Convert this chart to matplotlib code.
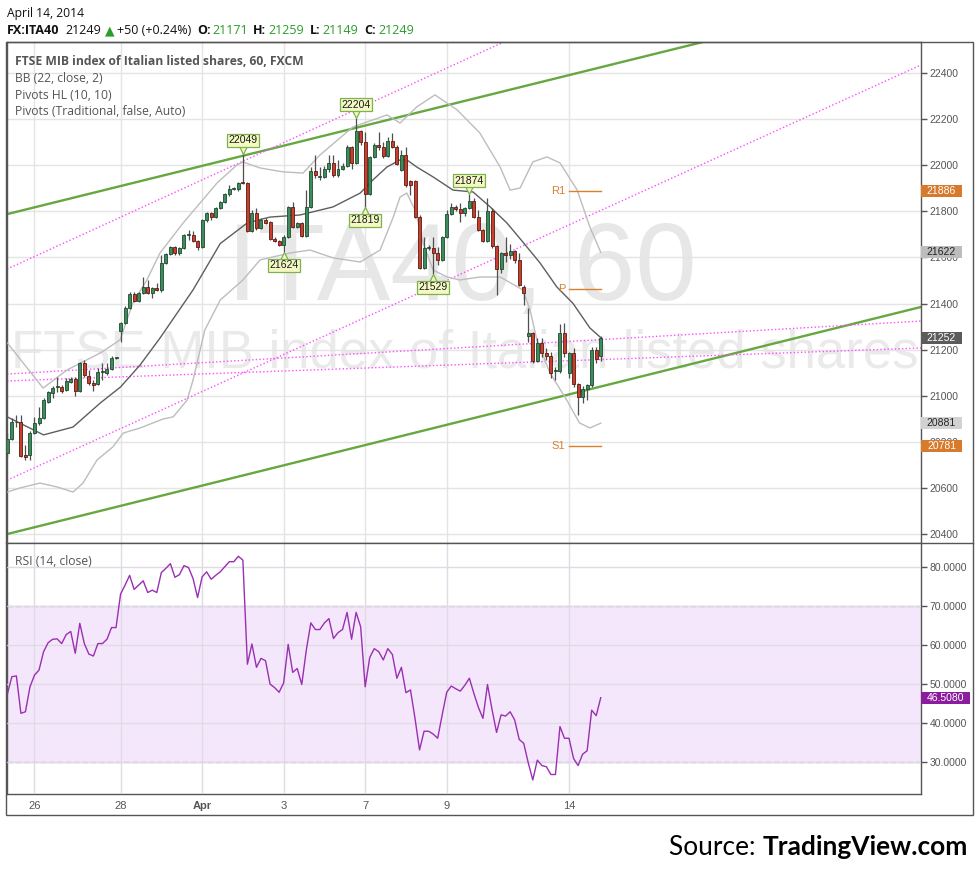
import matplotlib
matplotlib.use('Agg')
import matplotlib.pyplot as plt
from matplotlib.transforms import offset_copy
from matplotlib.patches import Rectangle
from matplotlib.lines import Line2D
import numpy as np

# ---------------- data ----------------
day_labels = ['26', '28', 'Apr', '3', '7', '9', '14']
day_bars = [6, 25, 43, 61, 79, 97, 124]

opens = [20752, 20812, 20884, 20886, 20743, 20743, 20838, 20882, 20903, 20973,
         21012, 21036, 21038, 21025, 21060, 21073, 21021, 21142, 21086, 21055,
         21051, 21103, 21099, 21116, 21164, 21281, 21316, 21381, 21441, 21411,
         21446, 21472, 21446, 21467, 21459, 21576, 21615, 21645, 21619, 21641,
         21697, 21697, 21671, 21645, 21762, 21793, 21775, 21814, 21840, 21875,
         21897, 21897, 21927, 21923, 21715, 21793, 21728, 21762, 21754, 21680,
         21671, 21654, 21689, 21819, 21732, 21749, 21693, 21819, 21975, 21949,
         21949, 21984, 22010, 21958, 21984, 21997, 22079, 22010, 22148, 22101,
         21875, 22036, 22088, 22079, 22040, 22105, 22079, 21979, 22044, 21932,
         21932, 21775, 21554, 21641, 21641, 21619, 21589, 21689, 21788, 21819,
         21810, 21793, 21814, 21845, 21775, 21719, 21671, 21801, 21650, 21550,
         21619, 21610, 21628, 21589, 21472, 21259, 21272, 21151, 21229, 21185,
         21172, 21107, 21107, 21272, 21099, 21185, 21051, 20995, 21029, 21047,
         21198, 21171]

closes = [20812, 20886, 20888, 20739, 20734, 20838, 20882, 20903, 20982, 21016,
          21034, 21038, 21021, 21064, 21073, 21021, 21142, 21090, 21055, 21047,
          21103, 21105, 21116, 21164, 21166, 21316, 21381, 21441, 21411, 21446,
          21472, 21446, 21467, 21459, 21576, 21615, 21645, 21619, 21641, 21697,
          21699, 21671, 21645, 21762, 21793, 21775, 21814, 21840, 21875, 21897,
          21901, 21923, 21923, 21715, 21793, 21728, 21762, 21749, 21680, 21671,
          21654, 21689, 21819, 21732, 21749, 21693, 21819, 21975, 21958, 21951,
          21984, 22010, 21958, 21984, 21997, 22079, 22010, 22148, 22101, 21875,
          22036, 22088, 22079, 22040, 22105, 22079, 22005, 22044, 21914, 21914,
          21775, 21554, 21641, 21643, 21619, 21589, 21689, 21788, 21819, 21810,
          21793, 21814, 21845, 21775, 21719, 21671, 21801, 21650, 21550, 21619,
          21610, 21628, 21589, 21480, 21446, 21272, 21151, 21229, 21185, 21172,
          21099, 21109, 21272, 21185, 21185, 21051, 20995, 21029, 21047, 21198,
          21159, 21249]

highs = [20838, 20903, 20916, 20916, 20786, 20845, 20907, 20951, 20990, 21020,
         21042, 21081, 21047, 21077, 21081, 21081, 21146, 21155, 21112, 21068,
         21120, 21142, 21142, 21172, 21168, 21320, 21389, 21450, 21450, 21450,
         21515, 21502, 21472, 21489, 21610, 21619, 21650, 21650, 21645, 21702,
         21719, 21715, 21676, 21767, 21797, 21797, 21819, 21845, 21880, 21914,
         21906, 21927, 22049, 21927, 21806, 21814, 21771, 21771, 21758, 21689,
         21676, 21697, 21822, 21840, 21754, 21754, 21892, 21992, 22044, 21992,
         21997, 22044, 22044, 22023, 22010, 22088, 22084, 22204, 22153, 22144,
         22040, 22097, 22144, 22101, 22123, 22140, 22088, 22066, 22079, 21936,
         21936, 21784, 21689, 21654, 21689, 21645, 21693, 21806, 21836, 21827,
         21836, 21818, 21874, 21858, 21806, 21723, 21858, 21814, 21654, 21624,
         21689, 21658, 21632, 21619, 21480, 21381, 21276, 21250, 21250, 21207,
         21190, 21125, 21311, 21316, 21190, 21207, 21055, 21042, 21052, 21211,
         21211, 21259]

lows = [20734, 20808, 20864, 20734, 20721, 20721, 20832, 20873, 20898, 20969,
        20990, 21016, 21012, 21021, 21055, 20999, 21016, 21081, 21047, 21021,
        21047, 21068, 21090, 21112, 21160, 21233, 21311, 21376, 21406, 21406,
        21441, 21441, 21424, 21454, 21450, 21570, 21610, 21610, 21610, 21637,
        21676, 21667, 21632, 21640, 21754, 21762, 21771, 21810, 21836, 21867,
        21893, 21888, 21919, 21711, 21711, 21719, 21723, 21745, 21676, 21667,
        21650, 21624, 21684, 21728, 21728, 21689, 21688, 21814, 21945, 21936,
        21945, 21971, 21949, 21949, 21979, 21992, 21984, 22005, 22088, 21819,
        21870, 22031, 22066, 22031, 22036, 22075, 22001, 21975, 21905, 21871,
        21770, 21550, 21550, 21632, 21529, 21567, 21585, 21684, 21784, 21801,
        21754, 21780, 21810, 21771, 21715, 21667, 21667, 21641, 21437, 21533,
        21580, 21593, 21576, 21476, 21394, 21233, 21142, 21146, 21168, 21155,
        21077, 21068, 21099, 21168, 21077, 21038, 20917, 20969, 20982, 21038,
        21142, 21149]

rsi = [47.4, 51.9, 52.1, 42.5, 42.9, 49.3, 52.3, 53.6, 58.3, 60.6,
       61.5, 61.6, 60.4, 62.7, 63.5, 57.9, 65.6, 60.4, 57.7, 57.2,
       60.4, 60.4, 61.5, 64.5, 64.5, 73.1, 75.4, 77.9, 74.3, 75.4,
       76.5, 73.5, 74.1, 73.5, 78.6, 79.7, 80.9, 77.4, 78.1, 80.4,
       79.9, 77.1, 72.2, 77.5, 78.8, 76.9, 77.9, 78.8, 80.1, 81.4,
       81.4, 82.8, 81.8, 55.1, 60.3, 54.3, 56.6, 56.0, 50.0, 49.1,
       47.9, 50.3, 60.2, 53.0, 54.0, 49.9, 58.7, 65.7, 64.0, 64.0,
       65.7, 66.8, 61.7, 63.2, 64.0, 68.4, 61.5, 68.4, 64.7, 49.3,
       56.8, 59.1, 58.3, 56.2, 59.1, 57.6, 51.5, 54.3, 47.8, 48.5,
       41.2, 33.1, 37.9, 37.9, 37.2, 36.1, 42.1, 47.9, 49.5, 48.8,
       48.2, 49.7, 51.5, 47.6, 44.0, 41.2, 49.9, 43.5, 37.6, 42.1,
       41.8, 42.9, 40.8, 35.8, 34.8, 29.8, 25.4, 30.5, 29.1, 28.8,
       26.8, 26.8, 39.1, 36.1, 36.1, 30.9, 29.1, 32.0, 32.9, 43.3,
       41.9, 46.508]

# Bollinger bands (22, close, 2) at sample bars
bb_mid_bars = [0, 8, 14.5, 20.5, 25, 29.3, 33.7, 41, 47, 53, 58, 64.6, 71.9, 77.9, 80.7,
               83.8, 86.7, 88.2, 90.4, 94, 98.4, 102.8, 106.6, 110.3, 113.8, 117.6,
               121.3, 124.9, 128.6, 131]
bb_mid_vals = [20908, 20830, 20864, 20968, 21038, 21133, 21250, 21459, 21660, 21750, 21775,
               21784, 21819, 21879, 21936, 21992, 22023, 22023, 21992, 21949, 21892, 21884,
               21819, 21749, 21667, 21576, 21472, 21400, 21294, 21252]
bb_up_bars = [0, 7.9, 13.2, 20.5, 24.9, 27.7, 30.8, 33.7, 38.8, 46.3, 50.7, 52, 55.8, 60.9,
              65.3, 69, 76.3, 83.8, 86.7, 90.4, 94.4, 99.3, 104.3, 108.8, 111, 113.2, 116,
              119.1, 122, 125.8, 128.6, 131]
bb_up_vals = [21229, 21033, 21112, 21185, 21242, 21402, 21502, 21619, 21749, 21923, 22001,
              22014, 21988, 21971, 21966, 22044, 22166, 22218, 22183, 22253, 22305, 22240,
              22140, 21992, 21892, 21901, 22014, 22036, 22010, 21892, 21732, 21622]
bb_lo_bars = [0, 2.8, 7.2, 11, 14.5, 16.7, 19.8, 23.3, 25.6, 29.3, 34.4, 36.6, 39.7, 41,
              43.6, 47, 52, 55.8, 62.4, 66.8, 71.9, 77.9, 82.3, 85.2, 86.7, 88.2, 90, 91.8,
              94, 97.1, 99.9, 104.3, 108.8, 113.8, 115.4, 116.9, 119.8, 123.5, 126.3, 128.6, 131]
bb_lo_vals = [20582, 20600, 20621, 20604, 20582, 20621, 20721, 20778, 20838, 20860, 20899,
              20908, 20981, 21068, 21285, 21415, 21502, 21589, 21619, 21632, 21598, 21580,
              21632, 21775, 21862, 21879, 21806, 21663, 21545, 21515, 21502, 21515, 21515,
              21459, 21372, 21242, 21099, 20981, 20882, 20860, 20881]

# trend lines (two points each: bar, price)
green_lines = [((0, 21788), (151.8, 22526)), ((0, 20400), (201.7, 21385))]
magenta_lines = [((0, 21550), (81.6, 22283)), ((0, 20634), (201.7, 22435)),
                 ((0, 21094), (201.7, 21324)), ((0, 21064), (201.7, 21207))]

# pivots HL
pivot_bars = [52, 61, 77, 79, 102, 94]
pivot_vals = [22049, 21624, 22204, 21819, 21874, 21529]
pivot_high = [True, False, True, False, True, False]

# traditional pivots
piv_names = ['R1', 'P', 'S1']
piv_vals = [21886, 21463, 20781]
piv_span = (124, 131)

# right-axis price labels
axis_tags = [21886, 21622, 21252, 20881, 20781]
axis_tag_fc = ['#d77a2c', '#bdbdbd', '#5b5b5b', '#d2d2d2', '#d77a2c']
axis_tag_tc = ['white', '#222222', 'white', '#222222', 'white']

price_ticks = list(range(20400, 22401, 200))
rsi_ticks = [30, 40, 50, 60, 70, 80]

# ---------------- figure ----------------
W, H = 980, 872
fig = plt.figure(figsize=(W / 100, H / 100), dpi=100)
fig.patch.set_facecolor('white')
plt.rcParams['font.family'] = ['Liberation Sans', 'DejaVu Sans']


def fx(px):
    return px / W


def fy(py):
    return 1 - py / H


ax = fig.add_axes([fx(7), fy(543), fx(921) - fx(7), fy(42) - fy(543)])
axr = fig.add_axes([fx(7), fy(794), fx(921) - fx(7), fy(543) - fy(794)], sharex=ax)

ax.set_xlim(-0.07, 201.7)
ax.set_ylim(20361, 22534.5)
axr.set_ylim(21.8, 86.2)

spine_c = '#555555'
for a in (ax, axr):
    for s in a.spines.values():
        s.set_color(spine_c)
        s.set_linewidth(1.0)
    a.set_facecolor('white')
axr.spines['top'].set_visible(False)

grid_c = '#e4e4e4'
ax.grid(True, color=grid_c, lw=1.0, zorder=0)
ax.set_axisbelow(True)

# watermarks
renderer = fig.canvas.get_renderer()


def fit_width(t, target):
    bb = t.get_window_extent(renderer)
    t.set_fontsize(t.get_fontsize() * target / bb.width)


wm1 = ax.text((462 - 7) / 914, (543 - 300) / 501, 'ITA40, 60', transform=ax.transAxes,
              ha='center', va='baseline', fontsize=78, color='#e7e7e7', zorder=0.5,
              family='Liberation Sans')
fit_width(wm1, 470)
wm2 = ax.text((465 - 7) / 914, (543 - 367) / 501, 'FTSE MIB index of Italian listed shares',
              transform=ax.transAxes, ha='center', va='baseline', fontsize=38,
              color='#eaeaea', zorder=0.5, family='Liberation Sans', clip_on=True)
fit_width(wm2, 906)

# trend lines
for p1, p2 in green_lines:
    ax.axline(p1, p2, color='#64a83f', lw=1.7, zorder=2.5)
for p1, p2 in magenta_lines:
    ax.axline(p1, p2, color='#ff4cff', lw=1.0, ls=(0, (1, 1.6)), zorder=2.5)

# Bollinger
ax.plot(bb_up_bars, bb_up_vals, color='#bdbdbd', lw=1.0, zorder=2.6)
ax.plot(bb_lo_bars, bb_lo_vals, color='#bdbdbd', lw=1.0, zorder=2.6)
ax.plot(bb_mid_bars, bb_mid_vals, color='#5e5e5e', lw=1.0, zorder=2.7)

# candles
o = np.array(opens, float)
c = np.array(closes, float)
hi = np.array(highs, float)
lo = np.array(lows, float)
xb = np.arange(len(o))
up = c >= o
bottom = np.minimum(o, c)
height = np.maximum(np.abs(c - o), 4.0)
ax.vlines(xb, lo, hi, color='#4f4f4f', lw=0.9, zorder=3)
ax.bar(xb[up], height[up], bottom=bottom[up], width=0.66, color='#3e8c5e',
       edgecolor='#1d4a2e', linewidth=0.6, zorder=4)
ax.bar(xb[~up], height[~up], bottom=bottom[~up], width=0.66, color='#c6402d',
       edgecolor='#5c1a10', linewidth=0.6, zorder=4)

# pivot HL labels
pl_fc, pl_ec = '#f3f8c4', '#7db24c'
ms = 6
ms_px = ms * 100 / 72
for b, v, isup in zip(pivot_bars, pivot_vals, pivot_high):
    sign = 1 if isup else -1
    tr = offset_copy(ax.transData, fig=fig, x=0, y=sign * ms_px / 2, units='dots')
    ax.plot([b], [v], marker='v' if isup else '^', ms=ms, mfc=pl_fc, mec=pl_ec, mew=0.9,
            transform=tr, zorder=6, clip_on=False)
    ax.annotate(f'{v}', xy=(b, v), xytext=(0, sign * 8.5), textcoords='offset pixels',
                ha='center', va='bottom' if isup else 'top', fontsize=7.5, color='#1a1a1a',
                bbox=dict(boxstyle='square,pad=0.15', fc=pl_fc, ec=pl_ec, lw=0.9), zorder=7)

# traditional pivot levels
piv_c = '#d9802f'
for name, v in zip(piv_names, piv_vals):
    ax.plot(piv_span, [v, v], color=piv_c, lw=1.0, zorder=5)
    ax.annotate(name, xy=(piv_span[0], v), xytext=(-4, 0), textcoords='offset pixels',
                ha='right', va='center', fontsize=8, color=piv_c, zorder=5)

# axes ticks
ax.yaxis.tick_right()
ax.set_yticks(price_ticks)
ax.set_yticklabels([str(t) for t in price_ticks])
ax.tick_params(axis='y', direction='out', length=4, width=1, color='#555555',
               labelcolor='#555555', labelsize=7.5, pad=2)
ax.set_xticks(day_bars)
ax.tick_params(axis='x', length=0, labelbottom=False)

# RSI panel
axr.axhspan(30, 70, color='#f4e7fc', zorder=0)
axr.grid(True, color='#e0dae4', lw=1.0, zorder=0.8)
axr.set_axisbelow(False)
for a_ in axr.get_xgridlines() + axr.get_ygridlines():
    a_.set_zorder(0.8)
axr.axhline(70, color='#b6aebd', lw=1.0, ls=(0, (4, 2)), zorder=1)
axr.axhline(30, color='#b6aebd', lw=1.0, ls=(0, (4, 2)), zorder=1)
axr.plot(np.arange(len(rsi)), rsi, color='#9b2fb2', lw=1.0, zorder=3)
axr.yaxis.tick_right()
axr.set_yticks(rsi_ticks)
axr.set_yticklabels([f'{t:.4f}' for t in rsi_ticks])
axr.tick_params(axis='y', direction='out', length=4, width=1, color='#555555',
                labelcolor='#555555', labelsize=7.5, pad=2)
axr.set_xticks(day_bars)
axr.set_xticklabels(day_labels)
axr.tick_params(axis='x', length=0, labelsize=8, labelcolor='#555555', pad=5)
for lbl in axr.get_xticklabels():
    if lbl.get_text() == 'Apr':
        lbl.set_fontweight('bold')

# right-axis value tags (display coordinates)
def tag(axis, value, text, fc, tc, width=41, hgt=12):
    ydisp = axis.transData.transform((0, value))[1]
    x0 = fx(921) * W
    fig.add_artist(Rectangle((x0, ydisp - hgt / 2), width, hgt, transform=None,
                             fc=fc, ec='none', zorder=10))
    fig.text((x0 + width / 2) / W, ydisp / H, text, ha='center', va='center',
             fontsize=7.5, color=tc, zorder=11)


for v, fcc, tcc in zip(axis_tags, axis_tag_fc, axis_tag_tc):
    tag(ax, v, str(v), fcc, tcc)
tag(axr, rsi[-1], f'{rsi[-1]:.4f}', '#8c1c9e', 'white', width=49)

# frames
fig.add_artist(Rectangle((fx(6), fy(815)), fx(973) - fx(6), fy(42) - fy(815),
                         transform=fig.transFigure, fill=False, ec=spine_c, lw=1.0, zorder=20))
fig.add_artist(Line2D([fx(6), fx(973)], [fy(543), fy(543)], color=spine_c, lw=1.0, zorder=20))

# panel legends
leg = fig.text(fx(15), fy(65), 'FTSE MIB index of Italian listed shares, 60, FXCM',
               fontsize=8, fontweight='bold', color='#555555', family='Open Sans',
               va='baseline', zorder=12)
fit_width(leg, 290)
fs_leg = leg.get_fontsize()
for yb, txt in zip([82, 99, 115], ['BB (22, close, 2)', 'Pivots HL (10, 10)',
                                   'Pivots (Traditional, false, Auto)']):
    fig.text(fx(15), fy(yb), txt, fontsize=fs_leg, color='#555555', family='Open Sans',
             va='baseline', zorder=12)
fig.text(fx(15), fy(565), 'RSI (14, close)', fontsize=fs_leg, color='#555555',
         family='Open Sans', va='baseline', zorder=12)

# header
hdr_font = ['Open Sans', 'DejaVu Sans']
d = fig.text(fx(7), fy(17), 'April 14, 2014', fontsize=9, color='#111111', family=hdr_font,
             va='baseline')
fit_width(d, 78)
green = '#2a9d2a'
pieces = [('FX:ITA40', 'bold', '#111111', 6), ('21249', 'normal', '#111111', 4),
          ('\u25b2', 'normal', green, 2), ('+50 (+0.24%)', 'normal', '#111111', 6),
          ('O:', 'bold', '#111111', 2), ('21171', 'normal', green, 5),
          ('H:', 'bold', '#111111', 2), ('21259', 'normal', green, 6),
          ('L:', 'bold', '#111111', 2), ('21149', 'normal', green, 6),
          ('C:', 'bold', '#111111', 2), ('21249', 'normal', green, 0)]
xcur = 7
for txt, wgt, col, gap in pieces:
    t = fig.text(fx(xcur), fy(34), txt, fontsize=9, fontweight=wgt, color=col,
                 family=hdr_font, va='baseline')
    xcur += t.get_window_extent(renderer).width + gap

# source
src_fs = 18 * 297 / 283
s1 = fig.text(fx(669), fy(855), 'Source: ', fontsize=src_fs, color='black', family='Lato',
              va='baseline')
w1 = s1.get_window_extent(renderer).width
s2 = fig.text(fx(669 + w1), fy(855), 'TradingView.com', fontsize=src_fs, fontweight='bold',
              color='black', family='Lato', va='baseline')

fig.savefig('out.png', dpi=100, facecolor='white')
